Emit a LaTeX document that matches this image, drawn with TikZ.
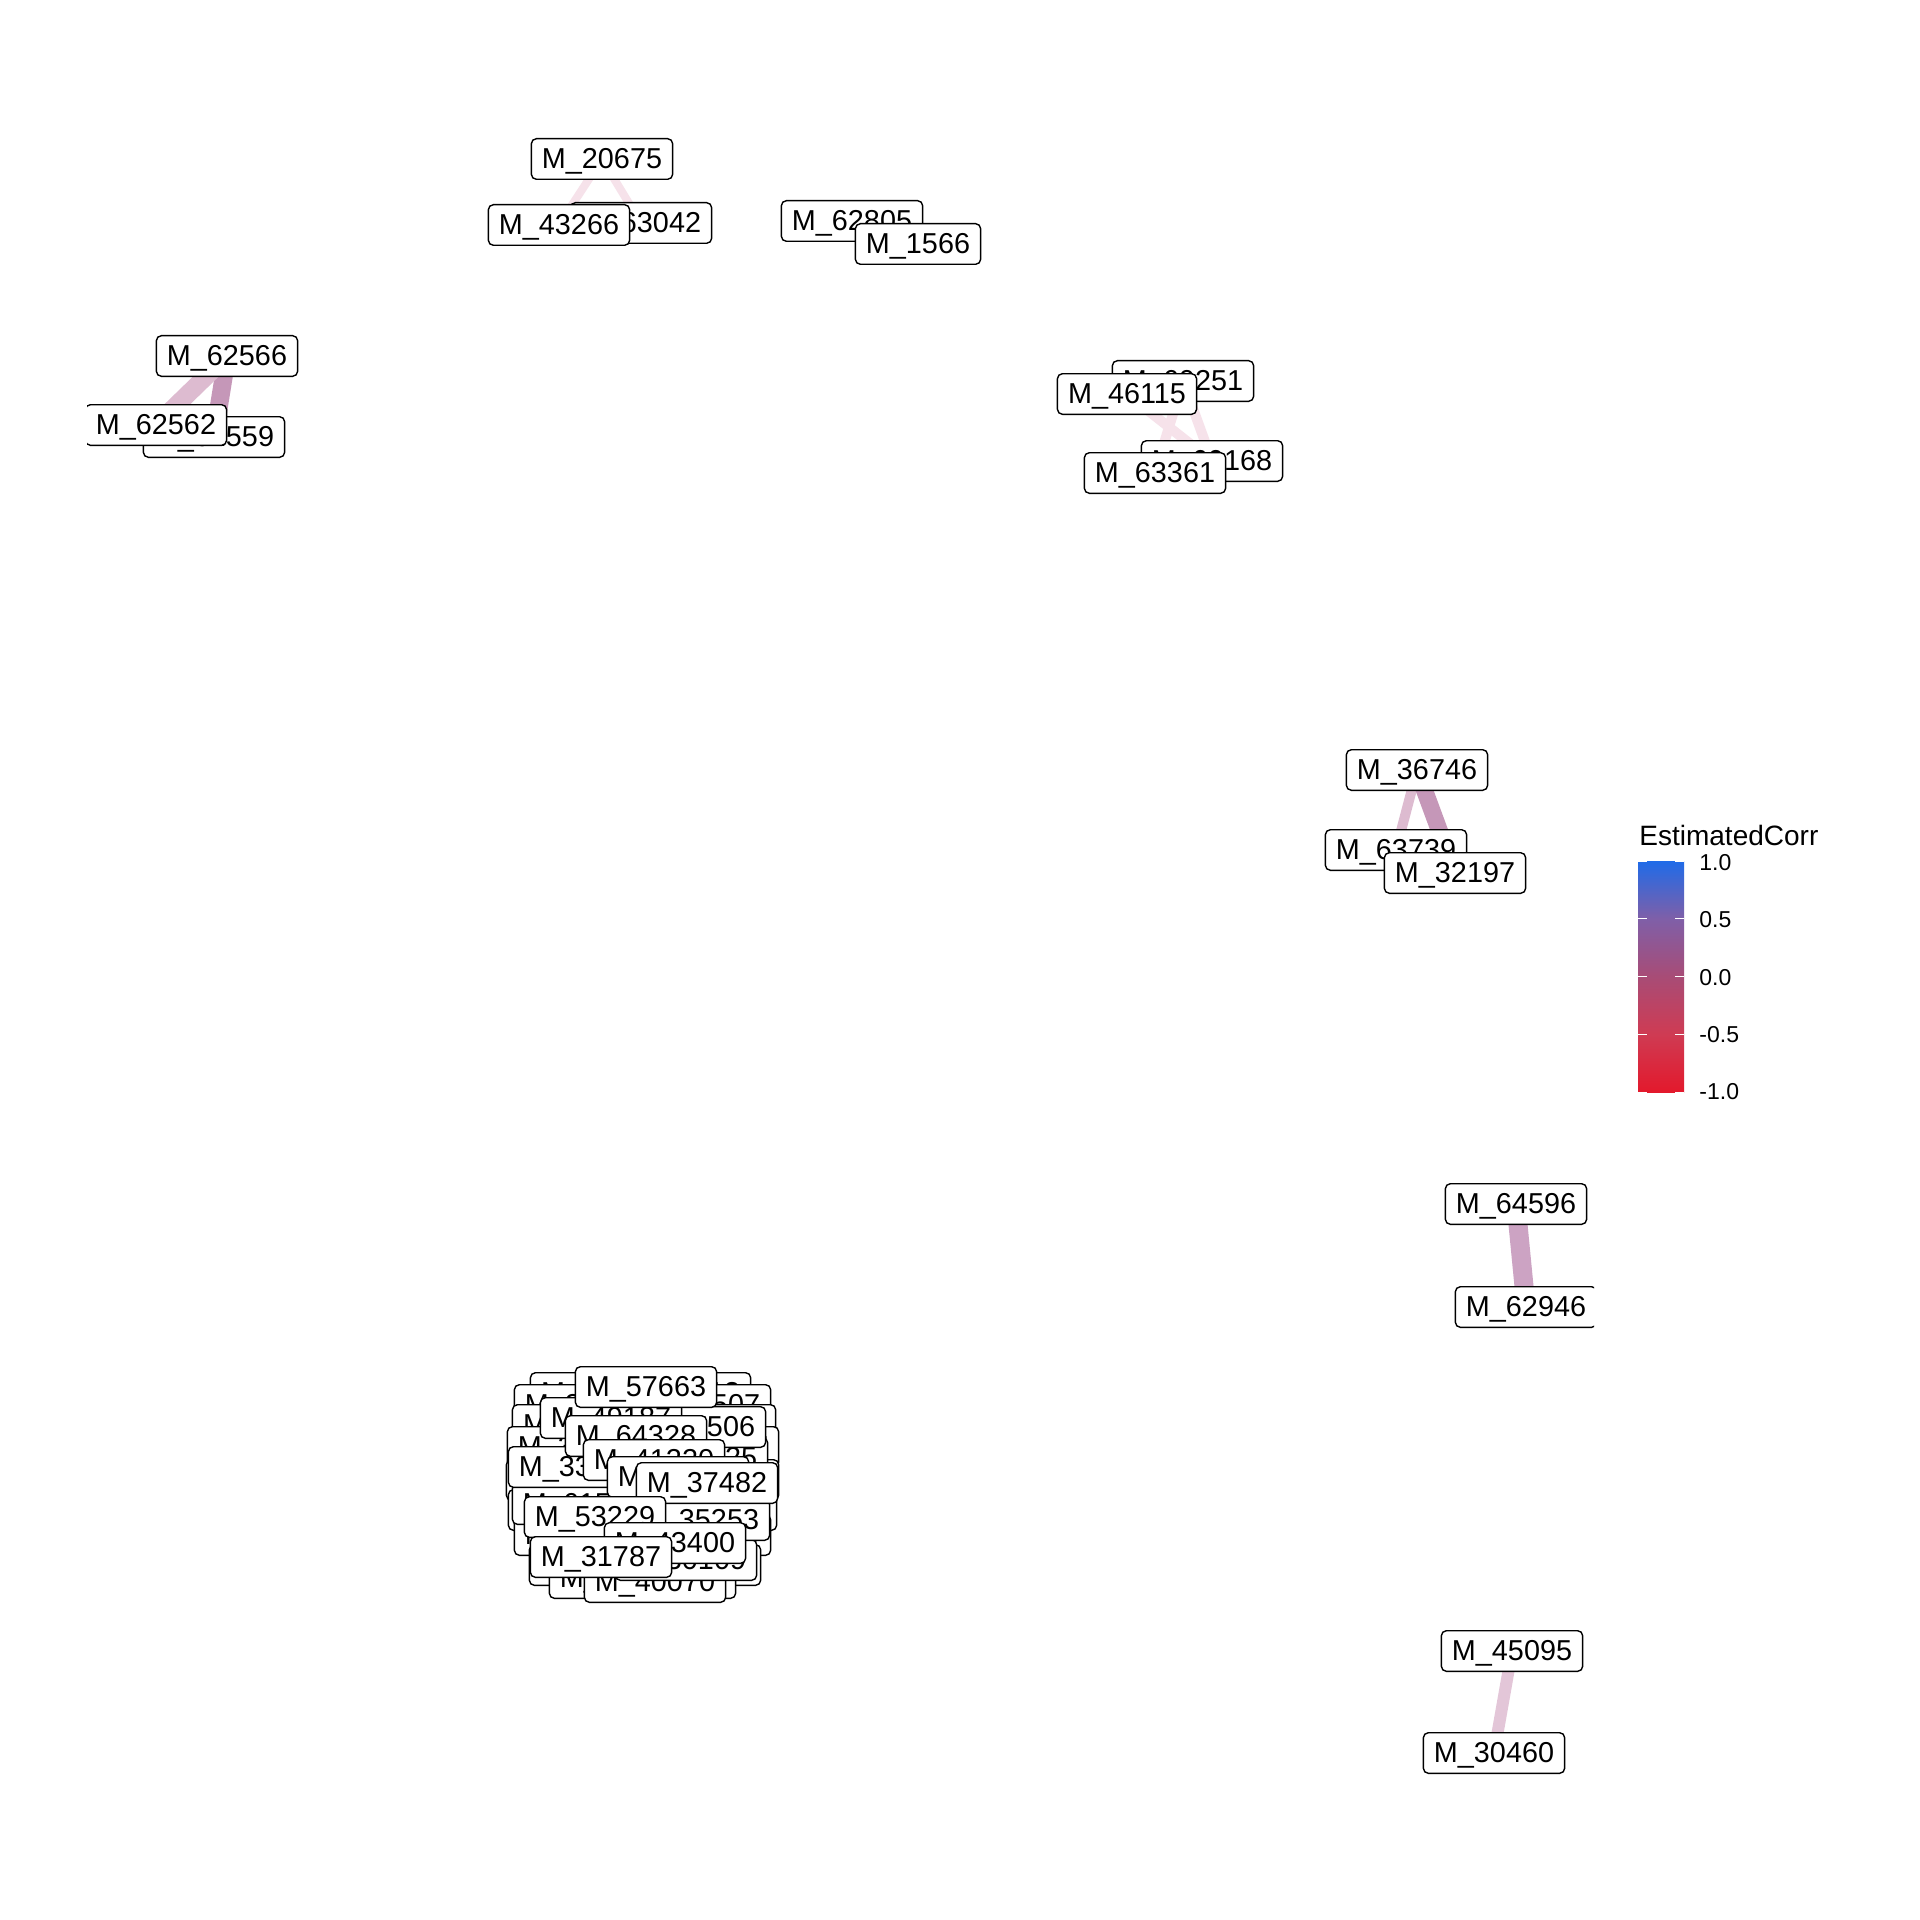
\documentclass[tikz,border=0pt]{standalone}
\usepackage{fontspec}
\setmainfont{Liberation Sans}
\pgfdeclarelayer{edges}
\pgfsetlayers{edges,main}
\definecolor{cm1}{HTML}{E3192C}
\definecolor{cm05}{HTML}{CF3B53}
\definecolor{czero}{HTML}{A84C76}
\definecolor{cp05}{HTML}{7F5FA8}
\definecolor{cp1}{HTML}{1F6BE8}
\definecolor{efaint}{HTML}{F6E2EA}
\definecolor{elight}{HTML}{DDBBD0}
\definecolor{emid}{HTML}{CCA3C3}
\definecolor{edark}{HTML}{C597B8}
\definecolor{epale}{HTML}{E3C6D8}
\pgfdeclareverticalshading{corrbar}{50bp}{color(0bp)=(cm1); color(12.5bp)=(cm05); color(25bp)=(czero); color(37.5bp)=(cp05); color(50bp)=(cp1)}
\begin{document}
\begin{tikzpicture}[x=0.5pt,y=-0.5pt,
  lab/.style={draw=black, line width=0.7pt, rounded corners=2.5pt, fill=white,
    font=\fontsize{14.4pt}{17pt}\selectfont, inner xsep=5.3pt, inner ysep=4.7pt,
    text height=10.3pt, text depth=0.6pt},
  edge/.style={line cap=butt},
  tick/.style={draw=white, line width=0.5pt},
  ticklab/.style={anchor=west, inner sep=0pt, font=\fontsize{11.5pt}{13pt}\selectfont}]
\useasboundingbox (0,0) rectangle (1920,1920);

\begin{scope}
\clip (87,0) rectangle (1594,1920);
% ---- top cluster
\node[lab] (n20675) at (602,159) {M\_20675};
\node[lab] (n63042) at (641,223) {M\_63042};
\node[lab] (n43266) at (559,225) {M\_43266};
\node[lab] (n62805) at (852,221) {M\_62805};
\node[lab] (n1566) at (918,244) {M\_1566};
% ---- left cluster
\node[lab] (n62566) at (227,356) {M\_62566};
\node[lab] (n62559) at (214,437) {M\_62559};
\node[lab] (n62562) at (156,425) {M\_62562};
% ---- 46115 cluster
\node[lab] (n60251) at (1183,381) {M\_60251};
\node[lab] (n46115) at (1127,394) {M\_46115};
\node[lab] (n60168) at (1212,461) {M\_60168};
\node[lab] (n63361) at (1155,473) {M\_63361};
% ---- 36746 cluster
\node[lab] (n36746) at (1417,770) {M\_36746};
\node[lab] (n63739) at (1396,850) {M\_63739};
\node[lab] (n32197) at (1455,873) {M\_32197};
% ---- pairs
\node[lab] (n64596) at (1516,1204) {M\_64596};
\node[lab] (n62946) at (1526,1307) {M\_62946};
\node[lab] (n45095) at (1512,1651) {M\_45095};
\node[lab] (n30460) at (1494,1753) {M\_30460};
% ---- big cluster: outer ring
\node[lab] (r1) at (600,1393) {M\_52110};
\node[lab] (r2) at (680,1393) {M\_48813};
\node[lab] (r3) at (585,1405) {M\_29975};
\node[lab] (r4) at (700,1405) {M\_44507};
\node[lab] (r5) at (582,1425) {M\_61183};
\node[lab] (r6) at (705,1425) {M\_58802};
\node[lab] (r7) at (578,1447) {M\_36694};
\node[lab] (r8) at (708,1447) {M\_39917};
\node[lab] (r9) at (577,1480) {M\_27765};
\node[lab] (r10) at (708,1480) {M\_47705};
\node[lab] (r11) at (579,1510) {M\_55021};
\node[lab] (r12) at (706,1510) {M\_33860};
\node[lab] (r13) at (585,1535) {M\_42216};
\node[lab] (r14) at (700,1535) {M\_60934};
\node[lab] (r15) at (600,1565) {M\_38124};
\node[lab] (r16) at (690,1565) {M\_51377};
\node[lab] (r17) at (620,1578) {M\_26649};
\node[lab] (r18) at (665,1578) {M\_49032};
% ---- big cluster: middle layer
\node[lab] (n40070) at (655,1582) {M\_40070};
\node[lab] (n30109) at (686,1560) {M\_30109};
\node[lab] (n35253) at (699,1520) {M\_35253};
\node[lab] (n61502) at (583,1504) {M\_61502};
\node[lab] (n33921) at (579,1467) {M\_33921};
\node[lab] (n42125) at (697,1458) {M\_42125};
\node[lab] (n37506) at (695,1427) {M\_37506};
\node[lab] (n49187) at (611,1418) {M\_49187};
% ---- big cluster: top layer
\node[lab] (n64328) at (636,1436) {M\_64328};
\node[lab] (n41220) at (654,1460) {M\_41220};
\node[lab] (n42810) at (678,1477) {M\_42810};
\node[lab] (n37482) at (707,1483) {M\_37482};
\node[lab] (n53229) at (595,1517) {M\_53229};
\node[lab] (n43400) at (675,1543) {M\_43400};
\node[lab] (n31787) at (601,1557) {M\_31787};
\node[lab] (n57663) at (646,1387) {M\_57663};
\end{scope}

\begin{pgfonlayer}{edges}
\fill[white] (0,0) rectangle (1920,1920);
\begin{scope}
\clip (87,0) rectangle (1594,1920);
\draw[edge, efaint, line width=4pt] (n20675.center) -- (n43266.center);
\draw[edge, efaint, line width=4pt] (n20675.center) -- (n63042.center);
\draw[edge, edark, line width=9pt] (n62566.center) -- (n62559.center);
\draw[edge, elight, line width=9pt] (n62566.center) -- (n62562.center);
\draw[edge, efaint, line width=5pt] (n46115.center) -- (n60168.center);
\draw[edge, efaint, line width=5pt] (n60251.center) -- (n63361.center);
\draw[edge, efaint, line width=5pt] (n60251.center) -- (n60168.center);
\draw[edge, elight, line width=5pt] (n36746.center) -- (n63739.center);
\draw[edge, edark, line width=8.5pt] (n36746.center) -- (n32197.center);
\draw[edge, emid, line width=9.5pt] (n64596.center) -- (n62946.center);
\draw[edge, epale, line width=6pt] (n45095.center) -- (n30460.center);
\end{scope}
\end{pgfonlayer}

% ---- legend
\node[anchor=base west, inner sep=0pt, font=\fontsize{14pt}{16pt}\selectfont] (ltitle) at (1639,845) {EstimatedCorr};
\shade[shading=corrbar] (1638,861) rectangle (1684,1092);
\foreach \yy in {861,918.75,976.5,1034.25,1092} {
  \draw[tick] (1638,\yy) -- (1647,\yy);
  \draw[tick] (1675,\yy) -- (1684,\yy);
}
\node[ticklab] (t1) at (1699,863) {1.0};
\node[ticklab] (t2) at (1699,920) {0.5};
\node[ticklab] (t3) at (1699,978) {0.0};
\node[ticklab] (t4) at (1699,1035) {-0.5};
\node[ticklab] (t5) at (1699,1092) {-1.0};
\end{tikzpicture}
\end{document}
